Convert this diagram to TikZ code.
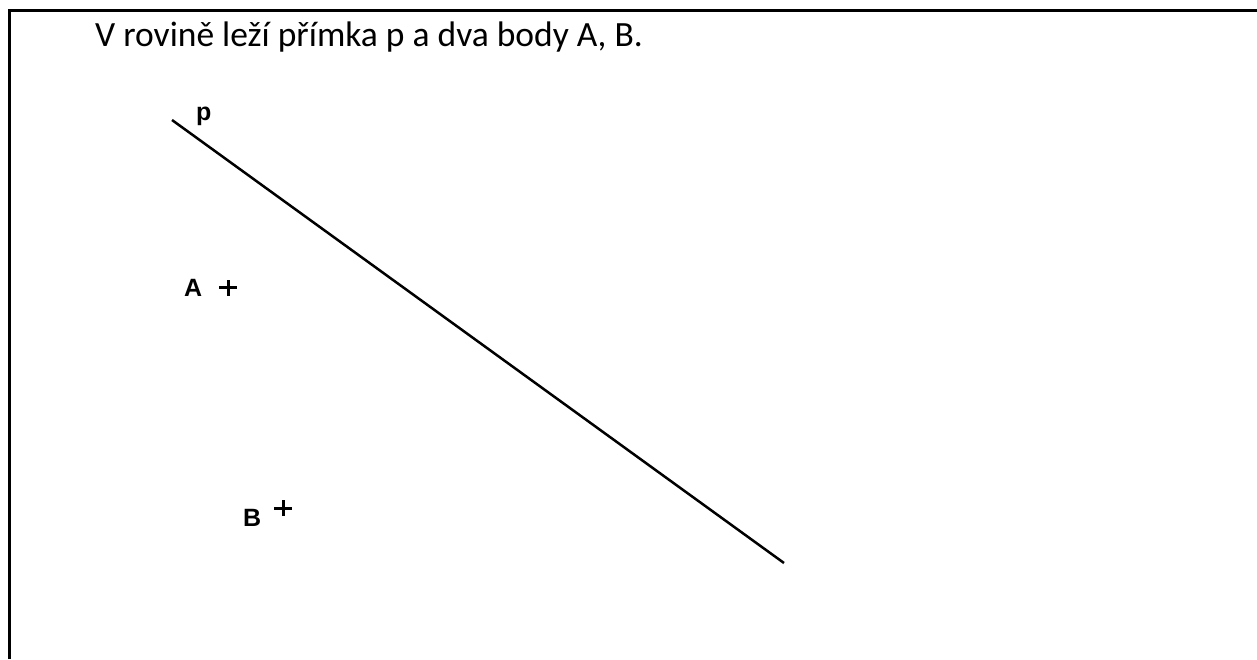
\documentclass[tikz,border=0pt]{standalone}
\usepackage{fontspec}
\setmainfont{Carlito}
\newfontfamily\lab{Liberation Sans}
\begin{document}
\begin{tikzpicture}[x=1pt,y=-1pt,
  frame/.style={line width=3.5pt,black},
  lbl/.style={font=\lab\bfseries\fontsize{25}{25}\selectfont,inner sep=0pt,anchor=base west},
  cross/.style={line width=3pt},
  ln/.style={line width=2.5pt}]
\useasboundingbox (0,0) rectangle (1257,659);
\draw[frame] (9.5,659) -- (9.5,10.5) -- (1257,10.5);
\node[anchor=base west,inner sep=0pt,font=\fontsize{35.5}{35.5}\selectfont] (title) at (95,46) {V rovině leží přímka p a dva body A, B.};
\coordinate (p1) at (172,120);
\coordinate (p2) at (784,563);
\draw[ln] (p1) -- (p2);
\node[lbl] (plab) at (196,120) {p};
\coordinate (A) at (228,287.5);
\coordinate (B) at (283,508);
\draw[cross] ([xshift=-9pt]A) -- ([xshift=9pt]A) ([yshift=-8pt]A) -- ([yshift=8pt]A);
\draw[cross] ([xshift=-9pt]B) -- ([xshift=9pt]B) ([yshift=-8pt]B) -- ([yshift=8pt]B);
\node[lbl] (Alab) at (184,296) {A};
\node[lbl] (Blab) at (243,526) {B};
\end{tikzpicture}
\end{document}
